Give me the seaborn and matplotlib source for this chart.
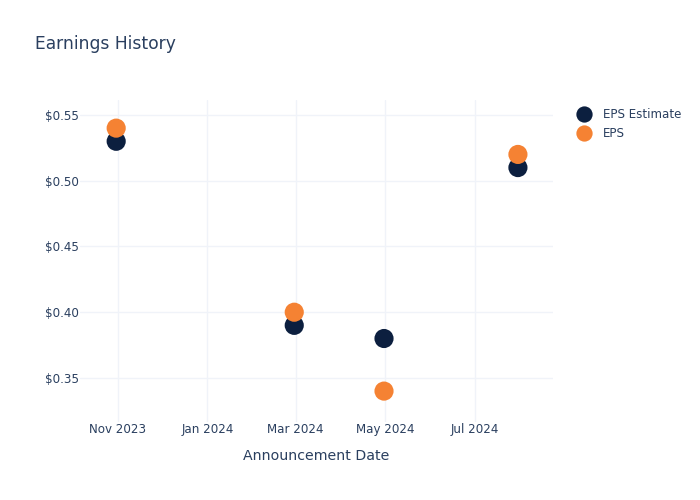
import matplotlib
matplotlib.use("Agg")
import matplotlib.pyplot as plt
import matplotlib.dates as mdates
from matplotlib.ticker import FuncFormatter
import seaborn as sns
import pandas as pd

dates = ["2023-10-31", "2024-02-29", "2024-04-30", "2024-07-30"]
eps_estimate = [0.53, 0.39, 0.38, 0.51]
eps_actual = [0.54, 0.40, 0.34, 0.52]
series_names = ["EPS Estimate", "EPS"]
colors = ["#0c1f3f", "#f58233"]

df = pd.DataFrame({
    "date": pd.to_datetime(dates * 2),
    "value": eps_estimate + eps_actual,
    "series": [series_names[0]] * len(dates) + [series_names[1]] * len(dates),
})

sns.set_style("white")
plt.rcParams["font.family"] = ["DejaVu Sans"]
text_color = "#2a3f5f"

fig = plt.figure(figsize=(7, 5), dpi=100)
ax = fig.add_axes([80 / 700, 1 - 422 / 500, (553 - 80) / 700, (422 - 100) / 500])

sns.scatterplot(data=df, x="date", y="value", hue="series", hue_order=series_names,
                palette=colors, s=190, linewidth=0, ax=ax, legend=True, zorder=3)

ax.set_xlim(pd.Timestamp("2023-10-06 10:00"), pd.Timestamp("2024-08-22 20:00"))
ax.set_ylim(0.3165, 0.5614)
ax.set_yticks([0.35, 0.40, 0.45, 0.50, 0.55])
ax.yaxis.set_major_formatter(FuncFormatter(lambda v, p: f"${v:.2f}"))
ax.xaxis.set_major_locator(mdates.MonthLocator(bymonth=[1, 3, 5, 7, 11]))
ax.xaxis.set_major_formatter(mdates.DateFormatter("%b %Y"))

ax.grid(True, color="#f0f3f9", linewidth=1, zorder=0)
ax.set_axisbelow(True)
for sp in ax.spines.values():
    sp.set_visible(False)
ax.tick_params(axis="both", length=0, labelsize=8.6, colors=text_color)
ax.tick_params(axis="y", pad=1)
ax.tick_params(axis="x", pad=1)
ax.set_xlabel("Announcement Date", fontsize=10.2, color=text_color, labelpad=9)
ax.set_ylabel("")

fig.text(35 / 700, 1 - 44 / 500, "Earnings History", fontsize=12.3, color=text_color,
         va="center", ha="left")

handles, labels = ax.get_legend_handles_labels()
ax.legend(handles, labels, loc="upper left", bbox_to_anchor=(570 / 700, 1 - 103 / 500),
          bbox_transform=fig.transFigure, frameon=False, fontsize=8.6,
          labelcolor=text_color, handletextpad=0.75, labelspacing=0.55, markerscale=0.85,
          borderaxespad=0, handlelength=1.6)

fig.savefig("out.png", dpi=100)
